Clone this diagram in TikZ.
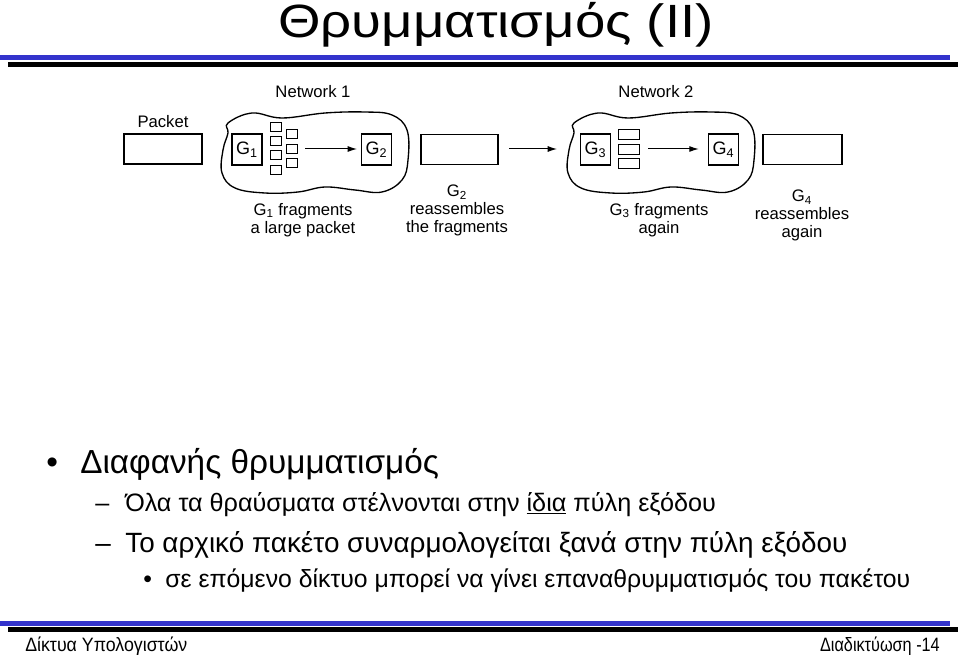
\documentclass[tikz,border=0pt]{standalone}
\usepackage{fontspec}
\setmainfont{Liberation Sans}
\usetikzlibrary{arrows.meta}
\definecolor{barblue}{RGB}{51,51,204}
\begin{document}
\begin{tikzpicture}[x=0.75pt,y=-0.75pt,
  rbox/.style={draw,line width=0.8pt,inner sep=0pt,minimum width=#1*0.75pt,minimum height=22.5pt},
  gbox/.style={draw,line width=0.8pt,inner sep=0pt,minimum width=22.5pt,minimum height=23.25pt,font=\fontsize{13.5}{15}\selectfont},
  frag/.style={draw,line width=0.6pt,inner sep=0pt,minimum width=8.25pt,minimum height=6.75pt},
  fragw/.style={draw,line width=0.6pt,inner sep=0pt,minimum width=15.75pt,minimum height=7.5pt},
  arr/.style={line width=0.75pt,-{Latex[length=7pt,width=4.5pt]}},
  cloudline/.style={line width=1pt},
  lbl/.style={inner sep=0pt,font=\fontsize{12.5}{13.5}\selectfont,align=center},
  lvla/.style={anchor=base west,inner sep=0pt,font=\fontsize{25}{27}\selectfont},
  lvlb/.style={anchor=base west,inner sep=0pt,font=\fontsize{18.9}{22}\selectfont},
  lvlbb/.style={anchor=base west,inner sep=0pt,font=\fontsize{20.9}{22}\selectfont},
  lvlc/.style={anchor=base west,inner sep=0pt,font=\fontsize{18.6}{20}\selectfont},
  foot/.style={inner sep=0pt,font=\fontsize{14.5}{16}\selectfont}]
\useasboundingbox (0,0) rectangle (960,656);
\fill[white] (0,0) rectangle (960,656);

% title and bars
\node[anchor=base,inner sep=0pt,font=\fontsize{35}{38}\selectfont] (title) at (496,38) {\scalebox{1.17}[1]{Θρυμματισμός (II)}};
\fill[barblue] (0,55) rectangle (950,60);
\fill[black] (8,62) rectangle (958,67);
\fill[barblue] (0,621) rectangle (950,626);
\fill[black] (8,627) rectangle (958,632);

% clouds
\draw[cloudline] plot[smooth cycle,tension=0.65] coordinates {
  (228,123) (252,113) (282,118) (325,113) (365,112) (392,115) (407,130)
  (408,160) (402,180) (382,192) (355,190) (325,187) (298,192) (265,193)
  (235,188) (222,173) (223,150) (228,133)};
\begin{scope}[shift={(346,0)}]
\draw[cloudline] plot[smooth cycle,tension=0.65] coordinates {
  (228,123) (252,113) (282,118) (325,113) (365,112) (392,115) (407,130)
  (408,160) (402,180) (382,192) (355,190) (325,187) (298,192) (265,193)
  (235,188) (222,173) (223,150) (228,133)};
\end{scope}

% labels
\node[lbl] (net1) at (313,92) {Network 1};
\node[lbl] (net2) at (656,92) {Network 2};
\node[lbl] (pkt) at (163,122) {Packet};

% boxes
\node[rbox=78] (r1) at (163,149) {};
\node[gbox] (g1) at (247,149.5) {G\textsubscript{1}};
\node[gbox] (g2) at (376.5,149.5) {G\textsubscript{2}};
\node[rbox=77] (r2) at (459.5,149.5) {};
\node[gbox] (g3) at (595.5,149.5) {G\textsubscript{3}};
\node[gbox] (g4) at (723.5,149.5) {G\textsubscript{4}};
\node[rbox=79] (r4) at (802.5,149.5) {};

% fragments network 1
\node[frag] (fa1) at (276,126.5) {};
\node[frag] (fa2) at (276,140.5) {};
\node[frag] (fa3) at (276,154.5) {};
\node[frag] (fa4) at (276,170) {};
\node[frag] (fb1) at (292,133.5) {};
\node[frag] (fb2) at (292,148.5) {};
\node[frag] (fb3) at (292,162.5) {};
% fragments network 2
\node[fragw] (fc1) at (628.5,134) {};
\node[fragw] (fc2) at (628.5,149) {};
\node[fragw] (fc3) at (628.5,163) {};

% arrows
\coordinate (s1) at (305,149);
\coordinate (s2) at (509,149);
\coordinate (e2) at (557,149);
\coordinate (s3) at (648,149);
\draw[arr] (s1) -- ([xshift=-3pt]g2.west |- s1);
\draw[arr] (s2) -- (e2);
\draw[arr] (s3) -- ([xshift=-7pt]g4.west |- s3);

% captions
\node[lbl,anchor=north] (c1) at (303,203) {G\textsubscript{1} fragments\\a large packet};
\node[lbl,anchor=north] (c2) at (457,185) {G\textsubscript{2}\\reassembles\\the fragments};
\node[lbl,anchor=north] (c3) at (659,203) {G\textsubscript{3} fragments\\again};
\node[lbl,anchor=north] (c4) at (802,190) {G\textsubscript{4}\\reassembles\\again};

% bullet text
\node[lvla] (bu1) at (46,473) {•};
\node[lvla] (t1) at (80,473) {Διαφανής θρυμματισμός};
\node[lvlb] (d2) at (95,511) {–};
\node[lvlb] (t2) at (125,511) {Όλα τα θραύσματα στέλνονται στην \underline{ίδια} πύλη εξόδου};
\node[lvlbb] (d3) at (95,552) {–};
\node[lvlbb] (t3) at (125,552) {Το αρχικό πακέτο συναρμολογείται ξανά στην πύλη εξόδου};
\node[lvlc] (bu4) at (143,587) {•};
\node[lvlc] (t4) at (165,587) {σε επόμενο δίκτυο μπορεί να γίνει επαναθρυμματισμός του πακέτου};

% footer
\node[foot,anchor=base west] (f1) at (25,651) {\scalebox{0.92}[1]{Δίκτυα Υπολογιστών}};
\node[foot,anchor=base east] (f2) at (940,651) {\scalebox{0.84}[1]{Διαδικτύωση -14}};
\end{tikzpicture}
\end{document}
